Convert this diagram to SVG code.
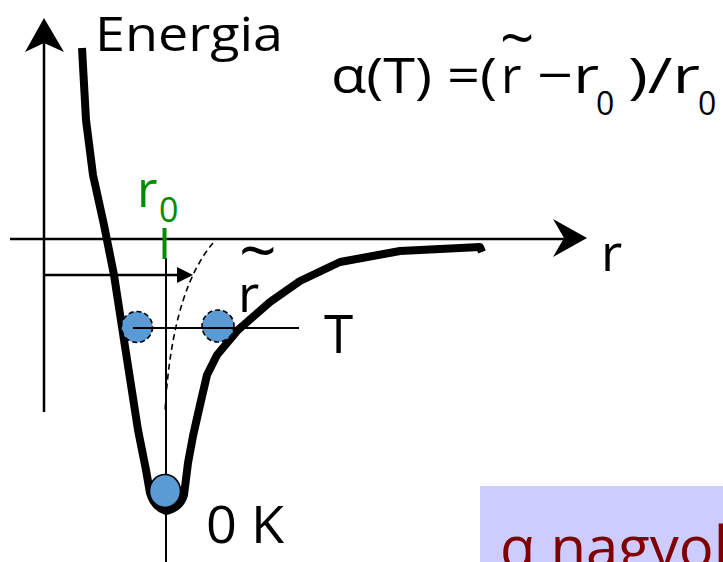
<svg xmlns="http://www.w3.org/2000/svg" width="723" height="562" viewBox="0 0 723 562">
<style>
text{font-family:"Open Sans","Noto Sans",sans-serif;fill:#000}
.axis{stroke:#000;stroke-width:2.5;fill:none}
.thin{stroke:#000;stroke-width:2;fill:none}
.curve{stroke:#000;stroke-width:8;fill:none;stroke-linejoin:round;stroke-linecap:butt}
.dash{stroke:#000;stroke-width:1.6;fill:none;stroke-dasharray:6 4}
.atom{fill:#5b9bd5;stroke:#000;stroke-width:1.6;stroke-dasharray:5 3}
.head{fill:#000}
</style>
<rect width="723" height="562" fill="#fff"/>
<g id="connectors">
  <line class="axis" x1="44" y1="412" x2="44" y2="40"/>
  <path class="head" d="M44,18 L64,52 L44,43 L25,52 Z"/>
  <line class="axis" x1="10" y1="239" x2="570" y2="239"/>
  <path class="head" d="M587,238 L553,219 L564,238 L553,257 Z"/>
  <line class="axis" x1="44" y1="275" x2="180" y2="275"/>
  <path class="head" d="M193,275 L177,267 L177,283 Z"/>
  <line class="thin" x1="166" y1="258" x2="166" y2="562"/>
  <line x1="164.5" y1="228" x2="164.5" y2="259" stroke="#008c00" stroke-width="4"/>
  <path class="dash" d="M213,243 C190,270 170,320 165,412"/>
</g>
<g id="potential-curve">
  <path class="curve" d="M82,48 L86,120 L93,175 L104,225 L114,275 L124,340 L138,430 L146,470 L150,493 Q154,507 166,511 Q180,508 184,495 L188,463 L193,436 L200,405 L207,375 L217,355 L238,330 L270,302 L300,281 L340,262 L400,251 L480,247 L482,252"/>
</g>
<g id="atom-left"><circle class="atom" cx="137" cy="327" r="15.5"/></g>
<g id="atom-right"><circle class="atom" cx="218" cy="326" r="16"/></g>
<g id="atom-0K"><ellipse cx="165" cy="491" rx="15.5" ry="16.5" fill="#5b9bd5" stroke="#000" stroke-width="1.6"/></g>
<g id="T-level"><line class="thin" x1="133" y1="328" x2="299" y2="328"/></g>
<g id="labels">
  <text x="95" y="51" font-size="48" textLength="188" lengthAdjust="spacingAndGlyphs">Energia</text>
  <text x="601" y="271" font-size="52">r</text>
  <text x="137" y="207" font-size="50" style="fill:#008c00">r</text>
  <text x="159" y="222" font-size="34" style="fill:#008c00">0</text>
  <text x="239" y="274" font-size="66">~</text>
  <text x="238" y="312" font-size="52">r</text>
  <text x="324" y="353" font-size="53">T</text>
  <text x="206" y="543" font-size="52" textLength="78" lengthAdjust="spacingAndGlyphs">0 K</text>
</g>
<g id="formula">
  <text x="331" y="93" font-size="50" textLength="166" lengthAdjust="spacingAndGlyphs">α(T) =(</text>
  <text x="500" y="60" font-size="60">~</text>
  <text x="501" y="93" font-size="50">r</text>
  <text x="537" y="93" font-size="50" textLength="62" lengthAdjust="spacingAndGlyphs">−r</text>
  <text x="596" y="115" font-size="32">0</text>
  <text x="628" y="93" font-size="50" textLength="72" lengthAdjust="spacingAndGlyphs">)/r</text>
  <text x="698" y="115" font-size="32">0</text>
</g>
<g id="note">
  <rect x="480" y="486" width="250" height="80" fill="#ccccff"/>
  <text x="500" y="568" font-size="58" style="fill:#800000">α nagyobb</text>
</g>
</svg>
